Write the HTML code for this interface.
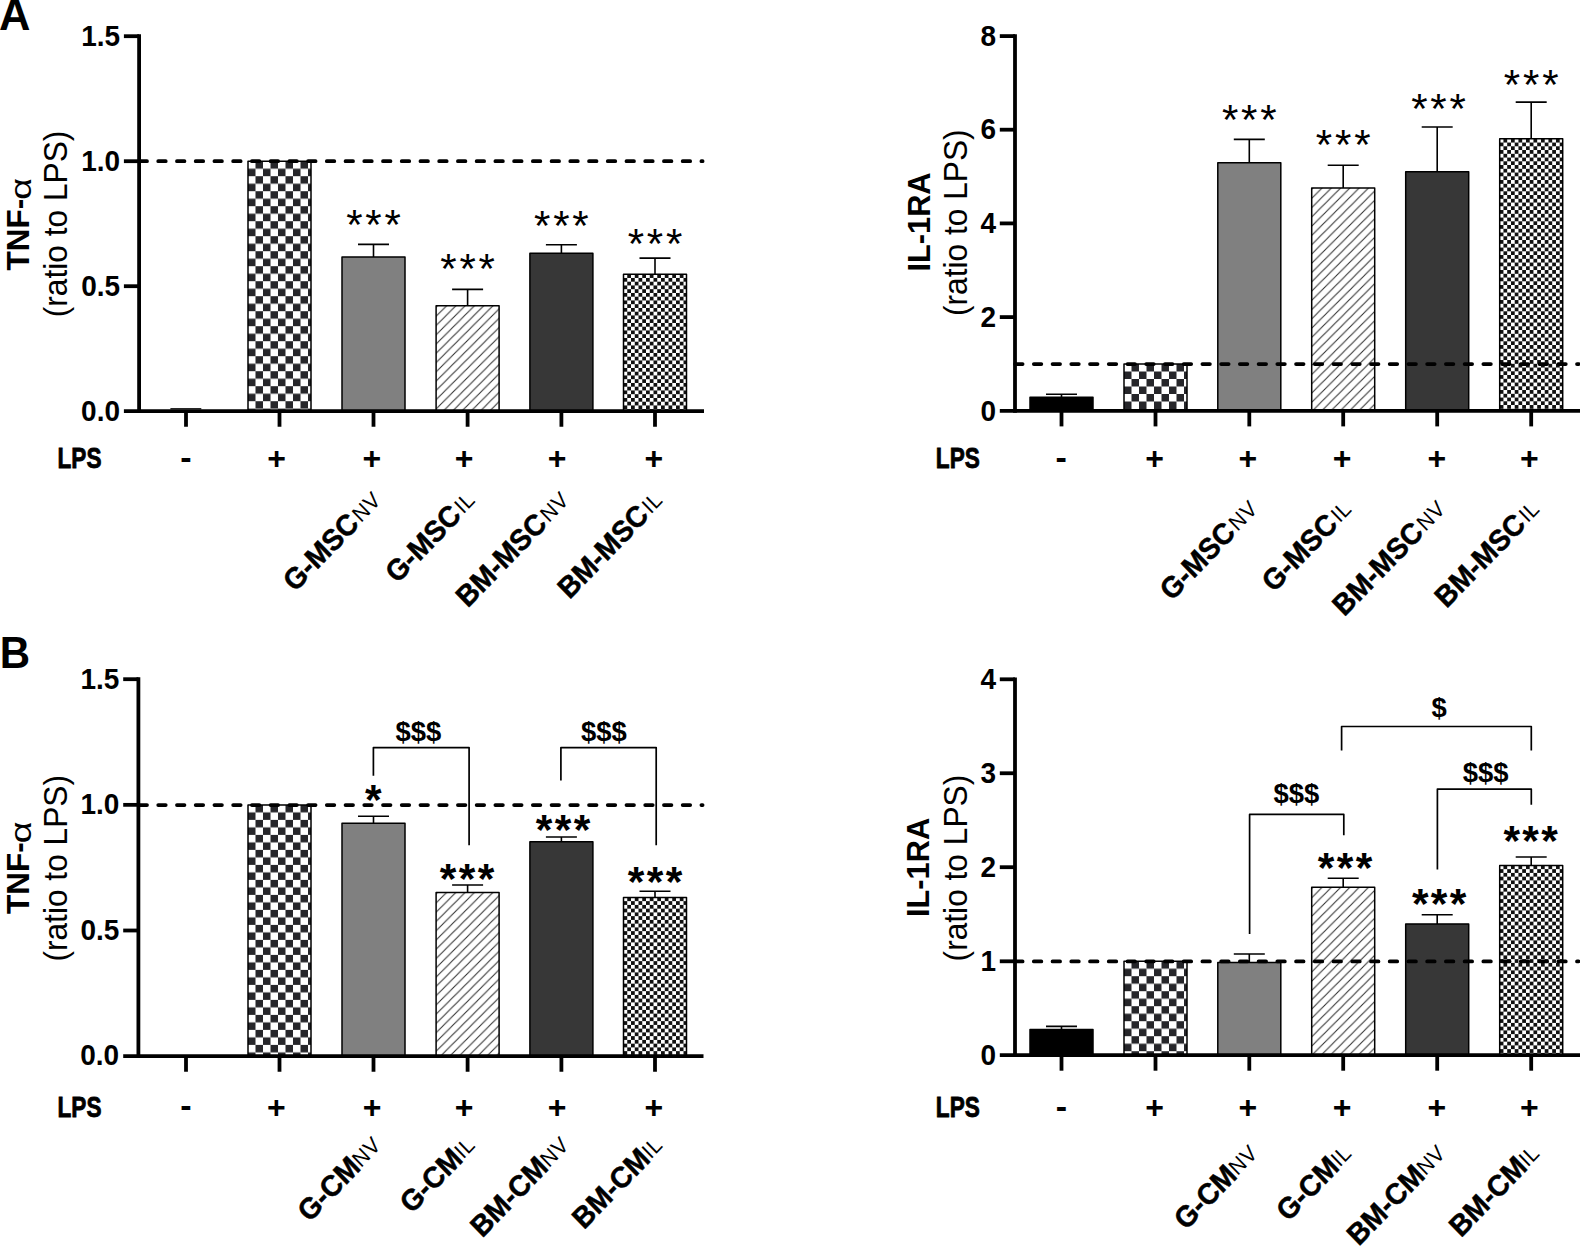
<!DOCTYPE html>
<html lang="en"><head><meta charset="utf-8"><title>Figure</title>
<style>
html,body{margin:0;padding:0;background:#fff;}
body{width:1580px;height:1246px;overflow:hidden;font-family:"Liberation Sans",Arial,sans-serif;}
svg{display:block}
text{fill:#000}
</style></head><body>
<svg width="1580" height="1246" viewBox="0 0 1580 1246">
<defs>
<pattern id="p1" patternUnits="userSpaceOnUse" x="248.00" y="161.20" width="15.0" height="15.0"><rect x="0" y="0" width="15.0" height="15.0" fill="#fff"/><rect x="7.5" y="0" width="7.5" height="7.5" fill="#26262a"/><rect x="0" y="7.5" width="7.5" height="7.5" fill="#26262a"/></pattern>
<pattern id="p2" patternUnits="userSpaceOnUse" x="437.30" y="305.80" width="9.27" height="9.27"><rect x="0" y="0" width="9.27" height="9.27" fill="#fff"/><path d="M-9.27,9.27 L9.27,-9.27 M0,18.54 L18.54,0 M-4.635,13.905 L13.905,-4.635" stroke="#303030" stroke-width="1.05" fill="none"/></pattern>
<pattern id="p3" patternUnits="userSpaceOnUse" x="623.50" y="274.20" width="7.5" height="7.5"><rect x="0" y="0" width="7.5" height="7.5" fill="#fff"/><rect x="3.75" y="0" width="3.75" height="3.75" fill="#111"/><rect x="0" y="3.75" width="3.75" height="3.75" fill="#111"/></pattern>
<pattern id="p4" patternUnits="userSpaceOnUse" x="1124.00" y="364.00" width="15.0" height="15.0"><rect x="0" y="0" width="15.0" height="15.0" fill="#fff"/><rect x="7.5" y="0" width="7.5" height="7.5" fill="#26262a"/><rect x="0" y="7.5" width="7.5" height="7.5" fill="#26262a"/></pattern>
<pattern id="p5" patternUnits="userSpaceOnUse" x="1312.90" y="187.90" width="9.27" height="9.27"><rect x="0" y="0" width="9.27" height="9.27" fill="#fff"/><path d="M-9.27,9.27 L9.27,-9.27 M0,18.54 L18.54,0 M-4.635,13.905 L13.905,-4.635" stroke="#303030" stroke-width="1.05" fill="none"/></pattern>
<pattern id="p6" patternUnits="userSpaceOnUse" x="1499.70" y="138.80" width="7.5" height="7.5"><rect x="0" y="0" width="7.5" height="7.5" fill="#fff"/><rect x="3.75" y="0" width="3.75" height="3.75" fill="#111"/><rect x="0" y="3.75" width="3.75" height="3.75" fill="#111"/></pattern>
<pattern id="p7" patternUnits="userSpaceOnUse" x="248.00" y="804.90" width="15.0" height="15.0"><rect x="0" y="0" width="15.0" height="15.0" fill="#fff"/><rect x="7.5" y="0" width="7.5" height="7.5" fill="#26262a"/><rect x="0" y="7.5" width="7.5" height="7.5" fill="#26262a"/></pattern>
<pattern id="p8" patternUnits="userSpaceOnUse" x="437.30" y="892.50" width="9.27" height="9.27"><rect x="0" y="0" width="9.27" height="9.27" fill="#fff"/><path d="M-9.27,9.27 L9.27,-9.27 M0,18.54 L18.54,0 M-4.635,13.905 L13.905,-4.635" stroke="#303030" stroke-width="1.05" fill="none"/></pattern>
<pattern id="p9" patternUnits="userSpaceOnUse" x="623.50" y="897.40" width="7.5" height="7.5"><rect x="0" y="0" width="7.5" height="7.5" fill="#fff"/><rect x="3.75" y="0" width="3.75" height="3.75" fill="#111"/><rect x="0" y="3.75" width="3.75" height="3.75" fill="#111"/></pattern>
<pattern id="p10" patternUnits="userSpaceOnUse" x="1124.00" y="961.20" width="15.0" height="15.0"><rect x="0" y="0" width="15.0" height="15.0" fill="#fff"/><rect x="7.5" y="0" width="7.5" height="7.5" fill="#26262a"/><rect x="0" y="7.5" width="7.5" height="7.5" fill="#26262a"/></pattern>
<pattern id="p11" patternUnits="userSpaceOnUse" x="1312.90" y="887.30" width="9.27" height="9.27"><rect x="0" y="0" width="9.27" height="9.27" fill="#fff"/><path d="M-9.27,9.27 L9.27,-9.27 M0,18.54 L18.54,0 M-4.635,13.905 L13.905,-4.635" stroke="#303030" stroke-width="1.05" fill="none"/></pattern>
<pattern id="p12" patternUnits="userSpaceOnUse" x="1499.70" y="865.40" width="7.5" height="7.5"><rect x="0" y="0" width="7.5" height="7.5" fill="#fff"/><rect x="3.75" y="0" width="3.75" height="3.75" fill="#111"/><rect x="0" y="3.75" width="3.75" height="3.75" fill="#111"/></pattern>
</defs>
<rect x="0" y="0" width="1580" height="1246" fill="#fff"/>
<text transform="translate(-1.00,30.00) scale(1,1.04)" font-family="Liberation Sans, Arial, sans-serif" font-weight="bold" font-size="43.5">A</text>
<text transform="translate(-0.30,667.50) scale(1,1.04)" font-family="Liberation Sans, Arial, sans-serif" font-weight="bold" font-size="42">B</text>
<rect x="248.00" y="161.20" width="63.0" height="249.95" fill="url(#p1)" stroke="#000" stroke-width="1.5" stroke-linejoin="round"/>
<rect x="342.00" y="257.00" width="63.0" height="154.15" fill="#808080" stroke="#000" stroke-width="1.5" stroke-linejoin="round"/>
<path d="M358.00,244.40 H389.00 M373.50,244.40 V257.00" stroke="#000" stroke-width="1.6" fill="none"/>
<rect x="436.10" y="305.80" width="63.0" height="105.35" fill="url(#p2)" stroke="#000" stroke-width="1.5" stroke-linejoin="round"/>
<path d="M452.10,289.40 H483.10 M467.60,289.40 V305.80" stroke="#000" stroke-width="1.6" fill="none"/>
<rect x="529.90" y="253.30" width="63.0" height="157.85" fill="#373737" stroke="#000" stroke-width="1.5" stroke-linejoin="round"/>
<path d="M545.90,244.80 H576.90 M561.40,244.80 V253.30" stroke="#000" stroke-width="1.6" fill="none"/>
<rect x="623.50" y="274.20" width="63.0" height="136.95" fill="url(#p3)" stroke="#000" stroke-width="1.5" stroke-linejoin="round"/>
<path d="M639.50,258.10 H670.50 M655.00,258.10 V274.20" stroke="#000" stroke-width="1.6" fill="none"/>
<path d="M170.4,408.8 H201.3" stroke="#000" stroke-width="1.3"/>
<path d="M139.50,161.20 H702.60" stroke="#000" stroke-width="3.75" stroke-linecap="round" stroke-dasharray="7.5 11.23" fill="none"/>
<path d="M139.10,34.30 V413.05" stroke="#000" stroke-width="3.8" fill="none"/>
<path d="M123.90,411.15 H704.00" stroke="#000" stroke-width="3.8" fill="none"/>
<path d="M123.90,36.20 H139.10" stroke="#000" stroke-width="3.8" fill="none"/>
<path d="M123.90,161.20 H139.10" stroke="#000" stroke-width="3.8" fill="none"/>
<path d="M123.90,286.20 H139.10" stroke="#000" stroke-width="3.8" fill="none"/>
<path d="M186.00,411.15 V426.75" stroke="#000" stroke-width="3.8" fill="none"/>
<path d="M279.50,411.15 V426.75" stroke="#000" stroke-width="3.8" fill="none"/>
<path d="M373.50,411.15 V426.75" stroke="#000" stroke-width="3.8" fill="none"/>
<path d="M467.60,411.15 V426.75" stroke="#000" stroke-width="3.8" fill="none"/>
<path d="M561.40,411.15 V426.75" stroke="#000" stroke-width="3.8" fill="none"/>
<path d="M655.00,411.15 V426.75" stroke="#000" stroke-width="3.8" fill="none"/>
<text x="346.17" y="238.80" font-family="Liberation Sans, Arial, sans-serif" font-size="42.0" letter-spacing="2.8">***</text>
<text x="440.27" y="282.50" font-family="Liberation Sans, Arial, sans-serif" font-size="42.0" letter-spacing="2.8">***</text>
<text x="534.07" y="240.10" font-family="Liberation Sans, Arial, sans-serif" font-size="42.0" letter-spacing="2.8">***</text>
<text x="627.67" y="258.40" font-family="Liberation Sans, Arial, sans-serif" font-size="42.0" letter-spacing="2.8">***</text>
<text transform="translate(120.20,45.60) scale(1,1.085)" font-family="Liberation Sans, Arial, sans-serif" font-weight="bold" font-size="28.0" text-anchor="end">1.5</text>
<text transform="translate(120.20,170.60) scale(1,1.085)" font-family="Liberation Sans, Arial, sans-serif" font-weight="bold" font-size="28.0" text-anchor="end">1.0</text>
<text transform="translate(120.20,295.60) scale(1,1.085)" font-family="Liberation Sans, Arial, sans-serif" font-weight="bold" font-size="28.0" text-anchor="end">0.5</text>
<text transform="translate(120.00,421.00) scale(1,1.085)" font-family="Liberation Sans, Arial, sans-serif" font-weight="bold" font-size="28.0" text-anchor="end">0.0</text>
<text transform="translate(29.00,270.40) rotate(-90) scale(1,1.02)" font-family="Liberation Sans, Arial, sans-serif" font-size="31.5" font-weight="bold">TNF-</text>
<text transform="translate(30.60,199.80) rotate(-90) scale(1.29,1)" font-family="Liberation Sans, Arial, sans-serif" font-size="29.4">α</text>
<text transform="translate(66.50,224.00) rotate(-90) scale(1,1.02)" font-family="Liberation Sans, Arial, sans-serif" font-size="31.7" text-anchor="middle">(ratio to LPS)</text>
<text transform="translate(101.50,468.00) scale(1,1.08)" font-family="Liberation Sans, Arial, sans-serif" font-weight="bold" font-size="28.0" text-anchor="end" textLength="44.0" lengthAdjust="spacingAndGlyphs" stroke="#000" stroke-width="0.8">LPS</text>
<text x="180.36" y="468.52" font-family="Liberation Sans, Arial, sans-serif" font-weight="bold" font-size="34.0">-</text>
<text x="267.14" y="468.74" font-family="Liberation Sans, Arial, sans-serif" font-weight="bold" font-size="32.0">+</text>
<text x="362.54" y="468.74" font-family="Liberation Sans, Arial, sans-serif" font-weight="bold" font-size="32.0">+</text>
<text x="454.84" y="468.74" font-family="Liberation Sans, Arial, sans-serif" font-weight="bold" font-size="32.0">+</text>
<text x="547.74" y="468.74" font-family="Liberation Sans, Arial, sans-serif" font-weight="bold" font-size="32.0">+</text>
<text x="644.54" y="468.74" font-family="Liberation Sans, Arial, sans-serif" font-weight="bold" font-size="32.0">+</text>
<g transform="translate(382.70,502.45) scale(0.97,1) rotate(-45)"><text transform="translate(-30.47,-1.2) scale(1.0,1.04)" font-family="Liberation Sans, Arial, sans-serif" font-size="21.5" letter-spacing="0.6">NV</text><text transform="translate(-32.47,0) scale(1,1.04)" font-family="Liberation Sans, Arial, sans-serif" font-weight="bold" font-size="28.6" text-anchor="end" stroke="#000" stroke-width="0.5">G-MSC</text></g>
<g transform="translate(476.80,502.45) scale(0.97,1) rotate(-45)"><text transform="translate(-18.53,-1.2) scale(1.0,1.04)" font-family="Liberation Sans, Arial, sans-serif" font-size="21.5" letter-spacing="0.6">IL</text><text transform="translate(-20.53,0) scale(1,1.04)" font-family="Liberation Sans, Arial, sans-serif" font-weight="bold" font-size="28.6" text-anchor="end" stroke="#000" stroke-width="0.5">G-MSC</text></g>
<g transform="translate(570.60,502.45) scale(0.97,1) rotate(-45)"><text transform="translate(-30.47,-1.2) scale(1.0,1.04)" font-family="Liberation Sans, Arial, sans-serif" font-size="21.5" letter-spacing="0.6">NV</text><text transform="translate(-32.47,0) scale(1,1.04)" font-family="Liberation Sans, Arial, sans-serif" font-weight="bold" font-size="28.6" text-anchor="end" stroke="#000" stroke-width="0.5">BM-MSC</text></g>
<g transform="translate(664.20,502.45) scale(0.97,1) rotate(-45)"><text transform="translate(-18.53,-1.2) scale(1.0,1.04)" font-family="Liberation Sans, Arial, sans-serif" font-size="21.5" letter-spacing="0.6">IL</text><text transform="translate(-20.53,0) scale(1,1.04)" font-family="Liberation Sans, Arial, sans-serif" font-weight="bold" font-size="28.6" text-anchor="end" stroke="#000" stroke-width="0.5">BM-MSC</text></g>
<rect x="1030.00" y="397.30" width="63.0" height="13.50" fill="#000" stroke="#000" stroke-width="1.5" stroke-linejoin="round"/>
<path d="M1046.00,394.20 H1077.00 M1061.50,394.20 V397.30" stroke="#000" stroke-width="1.6" fill="none"/>
<rect x="1124.00" y="364.00" width="63.0" height="46.80" fill="url(#p4)" stroke="#000" stroke-width="1.5" stroke-linejoin="round"/>
<rect x="1217.80" y="162.70" width="63.0" height="248.10" fill="#808080" stroke="#000" stroke-width="1.5" stroke-linejoin="round"/>
<path d="M1233.80,139.40 H1264.80 M1249.30,139.40 V162.70" stroke="#000" stroke-width="1.6" fill="none"/>
<rect x="1311.70" y="187.90" width="63.0" height="222.90" fill="url(#p5)" stroke="#000" stroke-width="1.5" stroke-linejoin="round"/>
<path d="M1327.70,165.30 H1358.70 M1343.20,165.30 V187.90" stroke="#000" stroke-width="1.6" fill="none"/>
<rect x="1405.70" y="171.70" width="63.0" height="239.10" fill="#373737" stroke="#000" stroke-width="1.5" stroke-linejoin="round"/>
<path d="M1421.70,127.00 H1452.70 M1437.20,127.00 V171.70" stroke="#000" stroke-width="1.6" fill="none"/>
<rect x="1499.70" y="138.80" width="63.0" height="272.00" fill="url(#p6)" stroke="#000" stroke-width="1.5" stroke-linejoin="round"/>
<path d="M1515.70,102.10 H1546.70 M1531.20,102.10 V138.80" stroke="#000" stroke-width="1.6" fill="none"/>
<path d="M1015.10,364.00 H1578.60" stroke="#000" stroke-width="3.75" stroke-linecap="round" stroke-dasharray="7.5 11.23" fill="none"/>
<path d="M1015.00,34.20 V412.70" stroke="#000" stroke-width="3.8" fill="none"/>
<path d="M999.80,410.80 H1580.00" stroke="#000" stroke-width="3.8" fill="none"/>
<path d="M999.80,36.10 H1015.00" stroke="#000" stroke-width="3.8" fill="none"/>
<path d="M999.80,129.70 H1015.00" stroke="#000" stroke-width="3.8" fill="none"/>
<path d="M999.80,223.40 H1015.00" stroke="#000" stroke-width="3.8" fill="none"/>
<path d="M999.80,317.10 H1015.00" stroke="#000" stroke-width="3.8" fill="none"/>
<path d="M1061.50,410.80 V426.40" stroke="#000" stroke-width="3.8" fill="none"/>
<path d="M1155.50,410.80 V426.40" stroke="#000" stroke-width="3.8" fill="none"/>
<path d="M1249.30,410.80 V426.40" stroke="#000" stroke-width="3.8" fill="none"/>
<path d="M1343.20,410.80 V426.40" stroke="#000" stroke-width="3.8" fill="none"/>
<path d="M1437.20,410.80 V426.40" stroke="#000" stroke-width="3.8" fill="none"/>
<path d="M1531.20,410.80 V426.40" stroke="#000" stroke-width="3.8" fill="none"/>
<text x="1221.97" y="134.20" font-family="Liberation Sans, Arial, sans-serif" font-size="42.0" letter-spacing="2.8">***</text>
<text x="1315.87" y="159.20" font-family="Liberation Sans, Arial, sans-serif" font-size="42.0" letter-spacing="2.8">***</text>
<text x="1411.17" y="123.30" font-family="Liberation Sans, Arial, sans-serif" font-size="42.0" letter-spacing="2.8">***</text>
<text x="1503.87" y="98.90" font-family="Liberation Sans, Arial, sans-serif" font-size="42.0" letter-spacing="2.8">***</text>
<text transform="translate(996.10,45.50) scale(1,1.085)" font-family="Liberation Sans, Arial, sans-serif" font-weight="bold" font-size="28.0" text-anchor="end">8</text>
<text transform="translate(996.10,139.10) scale(1,1.085)" font-family="Liberation Sans, Arial, sans-serif" font-weight="bold" font-size="28.0" text-anchor="end">6</text>
<text transform="translate(996.10,232.80) scale(1,1.085)" font-family="Liberation Sans, Arial, sans-serif" font-weight="bold" font-size="28.0" text-anchor="end">4</text>
<text transform="translate(996.10,326.50) scale(1,1.085)" font-family="Liberation Sans, Arial, sans-serif" font-weight="bold" font-size="28.0" text-anchor="end">2</text>
<text transform="translate(996.00,420.70) scale(1,1.085)" font-family="Liberation Sans, Arial, sans-serif" font-weight="bold" font-size="28.0" text-anchor="end">0</text>
<text transform="translate(929.70,222.00) rotate(-90) scale(1,1.02)" font-family="Liberation Sans, Arial, sans-serif" font-size="30.8" font-weight="bold" text-anchor="middle">IL-1RA</text>
<text transform="translate(967.30,222.70) rotate(-90) scale(1,1.02)" font-family="Liberation Sans, Arial, sans-serif" font-size="31.7" text-anchor="middle">(ratio to LPS)</text>
<text transform="translate(979.80,468.00) scale(1,1.08)" font-family="Liberation Sans, Arial, sans-serif" font-weight="bold" font-size="28.0" text-anchor="end" textLength="44.0" lengthAdjust="spacingAndGlyphs" stroke="#000" stroke-width="0.8">LPS</text>
<text x="1055.56" y="468.52" font-family="Liberation Sans, Arial, sans-serif" font-weight="bold" font-size="34.0">-</text>
<text x="1145.14" y="468.74" font-family="Liberation Sans, Arial, sans-serif" font-weight="bold" font-size="32.0">+</text>
<text x="1238.44" y="468.74" font-family="Liberation Sans, Arial, sans-serif" font-weight="bold" font-size="32.0">+</text>
<text x="1332.74" y="468.74" font-family="Liberation Sans, Arial, sans-serif" font-weight="bold" font-size="32.0">+</text>
<text x="1427.44" y="468.74" font-family="Liberation Sans, Arial, sans-serif" font-weight="bold" font-size="32.0">+</text>
<text x="1520.04" y="468.74" font-family="Liberation Sans, Arial, sans-serif" font-weight="bold" font-size="32.0">+</text>
<g transform="translate(1259.30,511.30) scale(0.97,1) rotate(-45)"><text transform="translate(-30.47,-1.2) scale(1.0,1.04)" font-family="Liberation Sans, Arial, sans-serif" font-size="21.5" letter-spacing="0.6">NV</text><text transform="translate(-32.47,0) scale(1,1.04)" font-family="Liberation Sans, Arial, sans-serif" font-weight="bold" font-size="28.6" text-anchor="end" stroke="#000" stroke-width="0.5">G-MSC</text></g>
<g transform="translate(1353.20,511.30) scale(0.97,1) rotate(-45)"><text transform="translate(-18.53,-1.2) scale(1.0,1.04)" font-family="Liberation Sans, Arial, sans-serif" font-size="21.5" letter-spacing="0.6">IL</text><text transform="translate(-20.53,0) scale(1,1.04)" font-family="Liberation Sans, Arial, sans-serif" font-weight="bold" font-size="28.6" text-anchor="end" stroke="#000" stroke-width="0.5">G-MSC</text></g>
<g transform="translate(1447.20,511.30) scale(0.97,1) rotate(-45)"><text transform="translate(-30.47,-1.2) scale(1.0,1.04)" font-family="Liberation Sans, Arial, sans-serif" font-size="21.5" letter-spacing="0.6">NV</text><text transform="translate(-32.47,0) scale(1,1.04)" font-family="Liberation Sans, Arial, sans-serif" font-weight="bold" font-size="28.6" text-anchor="end" stroke="#000" stroke-width="0.5">BM-MSC</text></g>
<g transform="translate(1541.20,511.30) scale(0.97,1) rotate(-45)"><text transform="translate(-18.53,-1.2) scale(1.0,1.04)" font-family="Liberation Sans, Arial, sans-serif" font-size="21.5" letter-spacing="0.6">IL</text><text transform="translate(-20.53,0) scale(1,1.04)" font-family="Liberation Sans, Arial, sans-serif" font-weight="bold" font-size="28.6" text-anchor="end" stroke="#000" stroke-width="0.5">BM-MSC</text></g>
<rect x="248.00" y="804.90" width="63.0" height="251.25" fill="url(#p7)" stroke="#000" stroke-width="1.5" stroke-linejoin="round"/>
<rect x="342.00" y="823.30" width="63.0" height="232.85" fill="#808080" stroke="#000" stroke-width="1.5" stroke-linejoin="round"/>
<path d="M358.00,816.20 H389.00 M373.50,816.20 V823.30" stroke="#000" stroke-width="1.6" fill="none"/>
<rect x="436.10" y="892.50" width="63.0" height="163.65" fill="url(#p8)" stroke="#000" stroke-width="1.5" stroke-linejoin="round"/>
<path d="M452.10,885.00 H483.10 M467.60,885.00 V892.50" stroke="#000" stroke-width="1.6" fill="none"/>
<rect x="529.90" y="841.70" width="63.0" height="214.45" fill="#373737" stroke="#000" stroke-width="1.5" stroke-linejoin="round"/>
<path d="M545.90,837.00 H576.90 M561.40,837.00 V841.70" stroke="#000" stroke-width="1.6" fill="none"/>
<rect x="623.50" y="897.40" width="63.0" height="158.75" fill="url(#p9)" stroke="#000" stroke-width="1.5" stroke-linejoin="round"/>
<path d="M639.50,891.30 H670.50 M655.00,891.30 V897.40" stroke="#000" stroke-width="1.6" fill="none"/>
<path d="M139.50,805.10 H702.60" stroke="#000" stroke-width="3.75" stroke-linecap="round" stroke-dasharray="7.5 11.23" fill="none"/>
<path d="M138.40,677.30 V1058.05" stroke="#000" stroke-width="3.8" fill="none"/>
<path d="M123.20,1056.15 H703.50" stroke="#000" stroke-width="3.8" fill="none"/>
<path d="M123.20,679.20 H138.40" stroke="#000" stroke-width="3.8" fill="none"/>
<path d="M123.20,804.85 H138.40" stroke="#000" stroke-width="3.8" fill="none"/>
<path d="M123.20,930.50 H138.40" stroke="#000" stroke-width="3.8" fill="none"/>
<path d="M186.00,1056.15 V1071.75" stroke="#000" stroke-width="3.8" fill="none"/>
<path d="M279.50,1056.15 V1071.75" stroke="#000" stroke-width="3.8" fill="none"/>
<path d="M373.50,1056.15 V1071.75" stroke="#000" stroke-width="3.8" fill="none"/>
<path d="M467.60,1056.15 V1071.75" stroke="#000" stroke-width="3.8" fill="none"/>
<path d="M561.40,1056.15 V1071.75" stroke="#000" stroke-width="3.8" fill="none"/>
<path d="M655.00,1056.15 V1071.75" stroke="#000" stroke-width="3.8" fill="none"/>
<text x="364.97" y="813.81" font-family="Liberation Sans, Arial, sans-serif" font-weight="bold" font-size="42.6" letter-spacing="2.4">*</text>
<text x="439.79" y="892.91" font-family="Liberation Sans, Arial, sans-serif" font-weight="bold" font-size="42.6" letter-spacing="2.4">***</text>
<text x="535.69" y="844.11" font-family="Liberation Sans, Arial, sans-serif" font-weight="bold" font-size="42.6" letter-spacing="2.4">***</text>
<text x="627.69" y="896.01" font-family="Liberation Sans, Arial, sans-serif" font-weight="bold" font-size="42.6" letter-spacing="2.4">***</text>
<path d="M373.40,775.80 V747.60 H469.10 V845.20" stroke="#000" stroke-width="1.7" fill="none" stroke-linejoin="round"/>
<path d="M560.90,780.50 V747.60 H656.20 V845.20" stroke="#000" stroke-width="1.7" fill="none" stroke-linejoin="round"/>
<text transform="translate(418.40,740.84) scale(1,1.04)" font-family="Liberation Sans, Arial, sans-serif" font-weight="bold" font-size="27.4" text-anchor="middle">$$$</text>
<text transform="translate(603.90,740.84) scale(1,1.04)" font-family="Liberation Sans, Arial, sans-serif" font-weight="bold" font-size="27.4" text-anchor="middle">$$$</text>
<text transform="translate(119.30,688.60) scale(1,1.085)" font-family="Liberation Sans, Arial, sans-serif" font-weight="bold" font-size="28.0" text-anchor="end">1.5</text>
<text transform="translate(119.30,814.25) scale(1,1.085)" font-family="Liberation Sans, Arial, sans-serif" font-weight="bold" font-size="28.0" text-anchor="end">1.0</text>
<text transform="translate(119.30,939.90) scale(1,1.085)" font-family="Liberation Sans, Arial, sans-serif" font-weight="bold" font-size="28.0" text-anchor="end">0.5</text>
<text transform="translate(119.20,1065.45) scale(1,1.085)" font-family="Liberation Sans, Arial, sans-serif" font-weight="bold" font-size="28.0" text-anchor="end">0.0</text>
<text transform="translate(29.00,913.90) rotate(-90) scale(1,1.02)" font-family="Liberation Sans, Arial, sans-serif" font-size="31.5" font-weight="bold">TNF-</text>
<text transform="translate(30.60,843.30) rotate(-90) scale(1.29,1)" font-family="Liberation Sans, Arial, sans-serif" font-size="29.4">α</text>
<text transform="translate(67.30,868.30) rotate(-90) scale(1,1.02)" font-family="Liberation Sans, Arial, sans-serif" font-size="31.7" text-anchor="middle">(ratio to LPS)</text>
<text transform="translate(101.50,1116.80) scale(1,1.08)" font-family="Liberation Sans, Arial, sans-serif" font-weight="bold" font-size="28.0" text-anchor="end" textLength="44.0" lengthAdjust="spacingAndGlyphs" stroke="#000" stroke-width="0.8">LPS</text>
<text x="180.16" y="1117.32" font-family="Liberation Sans, Arial, sans-serif" font-weight="bold" font-size="34.0">-</text>
<text x="267.04" y="1117.54" font-family="Liberation Sans, Arial, sans-serif" font-weight="bold" font-size="32.0">+</text>
<text x="362.84" y="1117.54" font-family="Liberation Sans, Arial, sans-serif" font-weight="bold" font-size="32.0">+</text>
<text x="454.84" y="1117.54" font-family="Liberation Sans, Arial, sans-serif" font-weight="bold" font-size="32.0">+</text>
<text x="547.74" y="1117.54" font-family="Liberation Sans, Arial, sans-serif" font-weight="bold" font-size="32.0">+</text>
<text x="644.54" y="1117.54" font-family="Liberation Sans, Arial, sans-serif" font-weight="bold" font-size="32.0">+</text>
<g transform="translate(382.70,1147.45) scale(0.97,1) rotate(-45)"><text transform="translate(-30.47,-1.2) scale(1.0,1.04)" font-family="Liberation Sans, Arial, sans-serif" font-size="21.5" letter-spacing="0.6">NV</text><text transform="translate(-30.47,0) scale(1,1.04)" font-family="Liberation Sans, Arial, sans-serif" font-weight="bold" font-size="28.6" text-anchor="end" stroke="#000" stroke-width="0.5">G-CM</text></g>
<g transform="translate(476.80,1147.45) scale(0.97,1) rotate(-45)"><text transform="translate(-18.53,-1.2) scale(1.0,1.04)" font-family="Liberation Sans, Arial, sans-serif" font-size="21.5" letter-spacing="0.6">IL</text><text transform="translate(-18.53,0) scale(1,1.04)" font-family="Liberation Sans, Arial, sans-serif" font-weight="bold" font-size="28.6" text-anchor="end" stroke="#000" stroke-width="0.5">G-CM</text></g>
<g transform="translate(570.60,1147.45) scale(0.97,1) rotate(-45)"><text transform="translate(-30.47,-1.2) scale(1.0,1.04)" font-family="Liberation Sans, Arial, sans-serif" font-size="21.5" letter-spacing="0.6">NV</text><text transform="translate(-30.47,0) scale(1,1.04)" font-family="Liberation Sans, Arial, sans-serif" font-weight="bold" font-size="28.6" text-anchor="end" stroke="#000" stroke-width="0.5">BM-CM</text></g>
<g transform="translate(664.20,1147.45) scale(0.97,1) rotate(-45)"><text transform="translate(-18.53,-1.2) scale(1.0,1.04)" font-family="Liberation Sans, Arial, sans-serif" font-size="21.5" letter-spacing="0.6">IL</text><text transform="translate(-18.53,0) scale(1,1.04)" font-family="Liberation Sans, Arial, sans-serif" font-weight="bold" font-size="28.6" text-anchor="end" stroke="#000" stroke-width="0.5">BM-CM</text></g>
<rect x="1030.00" y="1029.40" width="63.0" height="25.70" fill="#000" stroke="#000" stroke-width="1.5" stroke-linejoin="round"/>
<path d="M1046.00,1026.40 H1077.00 M1061.50,1026.40 V1029.40" stroke="#000" stroke-width="1.6" fill="none"/>
<rect x="1124.00" y="961.20" width="63.0" height="93.90" fill="url(#p10)" stroke="#000" stroke-width="1.5" stroke-linejoin="round"/>
<rect x="1217.80" y="962.50" width="63.0" height="92.60" fill="#808080" stroke="#000" stroke-width="1.5" stroke-linejoin="round"/>
<path d="M1233.80,954.00 H1264.80 M1249.30,954.00 V962.50" stroke="#000" stroke-width="1.6" fill="none"/>
<rect x="1311.70" y="887.30" width="63.0" height="167.80" fill="url(#p11)" stroke="#000" stroke-width="1.5" stroke-linejoin="round"/>
<path d="M1327.70,878.20 H1358.70 M1343.20,878.20 V887.30" stroke="#000" stroke-width="1.6" fill="none"/>
<rect x="1405.70" y="923.90" width="63.0" height="131.20" fill="#373737" stroke="#000" stroke-width="1.5" stroke-linejoin="round"/>
<path d="M1421.70,914.80 H1452.70 M1437.20,914.80 V923.90" stroke="#000" stroke-width="1.6" fill="none"/>
<rect x="1499.70" y="865.40" width="63.0" height="189.70" fill="url(#p12)" stroke="#000" stroke-width="1.5" stroke-linejoin="round"/>
<path d="M1515.70,857.00 H1546.70 M1531.20,857.00 V865.40" stroke="#000" stroke-width="1.6" fill="none"/>
<path d="M1015.10,961.40 H1578.60" stroke="#000" stroke-width="3.75" stroke-linecap="round" stroke-dasharray="7.5 11.23" fill="none"/>
<path d="M1015.00,677.40 V1057.00" stroke="#000" stroke-width="3.8" fill="none"/>
<path d="M999.80,1055.10 H1580.00" stroke="#000" stroke-width="3.8" fill="none"/>
<path d="M999.80,679.30 H1015.00" stroke="#000" stroke-width="3.8" fill="none"/>
<path d="M999.80,773.25 H1015.00" stroke="#000" stroke-width="3.8" fill="none"/>
<path d="M999.80,867.20 H1015.00" stroke="#000" stroke-width="3.8" fill="none"/>
<path d="M999.80,961.30 H1015.00" stroke="#000" stroke-width="3.8" fill="none"/>
<path d="M1061.50,1055.10 V1070.70" stroke="#000" stroke-width="3.8" fill="none"/>
<path d="M1155.50,1055.10 V1070.70" stroke="#000" stroke-width="3.8" fill="none"/>
<path d="M1249.30,1055.10 V1070.70" stroke="#000" stroke-width="3.8" fill="none"/>
<path d="M1343.20,1055.10 V1070.70" stroke="#000" stroke-width="3.8" fill="none"/>
<path d="M1437.20,1055.10 V1070.70" stroke="#000" stroke-width="3.8" fill="none"/>
<path d="M1531.20,1055.10 V1070.70" stroke="#000" stroke-width="3.8" fill="none"/>
<text x="1317.79" y="882.11" font-family="Liberation Sans, Arial, sans-serif" font-weight="bold" font-size="42.6" letter-spacing="2.4">***</text>
<text x="1411.89" y="918.21" font-family="Liberation Sans, Arial, sans-serif" font-weight="bold" font-size="42.6" letter-spacing="2.4">***</text>
<text x="1503.39" y="855.41" font-family="Liberation Sans, Arial, sans-serif" font-weight="bold" font-size="42.6" letter-spacing="2.4">***</text>
<path d="M1341.60,750.60 V726.50 H1531.30 V750.60" stroke="#000" stroke-width="1.7" fill="none" stroke-linejoin="round"/>
<path d="M1437.40,869.50 V789.10 H1531.30 V804.70" stroke="#000" stroke-width="1.7" fill="none" stroke-linejoin="round"/>
<path d="M1249.60,934.00 V814.40 H1343.80 V835.30" stroke="#000" stroke-width="1.7" fill="none" stroke-linejoin="round"/>
<text transform="translate(1439.00,717.14) scale(1,1.04)" font-family="Liberation Sans, Arial, sans-serif" font-weight="bold" font-size="27.4" text-anchor="middle">$</text>
<text transform="translate(1485.70,782.14) scale(1,1.04)" font-family="Liberation Sans, Arial, sans-serif" font-weight="bold" font-size="27.4" text-anchor="middle">$$$</text>
<text transform="translate(1296.40,803.34) scale(1,1.04)" font-family="Liberation Sans, Arial, sans-serif" font-weight="bold" font-size="27.4" text-anchor="middle">$$$</text>
<text transform="translate(996.10,688.70) scale(1,1.085)" font-family="Liberation Sans, Arial, sans-serif" font-weight="bold" font-size="28.0" text-anchor="end">4</text>
<text transform="translate(996.10,782.65) scale(1,1.085)" font-family="Liberation Sans, Arial, sans-serif" font-weight="bold" font-size="28.0" text-anchor="end">3</text>
<text transform="translate(996.10,876.60) scale(1,1.085)" font-family="Liberation Sans, Arial, sans-serif" font-weight="bold" font-size="28.0" text-anchor="end">2</text>
<text transform="translate(996.10,970.80) scale(1,1.085)" font-family="Liberation Sans, Arial, sans-serif" font-weight="bold" font-size="28.0" text-anchor="end">1</text>
<text transform="translate(996.00,1064.90) scale(1,1.085)" font-family="Liberation Sans, Arial, sans-serif" font-weight="bold" font-size="28.0" text-anchor="end">0</text>
<text transform="translate(928.90,867.40) rotate(-90) scale(1,1.02)" font-family="Liberation Sans, Arial, sans-serif" font-size="30.8" font-weight="bold" text-anchor="middle">IL-1RA</text>
<text transform="translate(967.30,868.10) rotate(-90) scale(1,1.02)" font-family="Liberation Sans, Arial, sans-serif" font-size="31.7" text-anchor="middle">(ratio to LPS)</text>
<text transform="translate(979.80,1117.30) scale(1,1.08)" font-family="Liberation Sans, Arial, sans-serif" font-weight="bold" font-size="28.0" text-anchor="end" textLength="44.0" lengthAdjust="spacingAndGlyphs" stroke="#000" stroke-width="0.8">LPS</text>
<text x="1055.76" y="1117.82" font-family="Liberation Sans, Arial, sans-serif" font-weight="bold" font-size="34.0">-</text>
<text x="1145.24" y="1118.04" font-family="Liberation Sans, Arial, sans-serif" font-weight="bold" font-size="32.0">+</text>
<text x="1238.44" y="1118.04" font-family="Liberation Sans, Arial, sans-serif" font-weight="bold" font-size="32.0">+</text>
<text x="1332.74" y="1118.04" font-family="Liberation Sans, Arial, sans-serif" font-weight="bold" font-size="32.0">+</text>
<text x="1427.44" y="1118.04" font-family="Liberation Sans, Arial, sans-serif" font-weight="bold" font-size="32.0">+</text>
<text x="1520.04" y="1118.04" font-family="Liberation Sans, Arial, sans-serif" font-weight="bold" font-size="32.0">+</text>
<g transform="translate(1259.30,1155.60) scale(0.97,1) rotate(-45)"><text transform="translate(-30.47,-1.2) scale(1.0,1.04)" font-family="Liberation Sans, Arial, sans-serif" font-size="21.5" letter-spacing="0.6">NV</text><text transform="translate(-30.47,0) scale(1,1.04)" font-family="Liberation Sans, Arial, sans-serif" font-weight="bold" font-size="28.6" text-anchor="end" stroke="#000" stroke-width="0.5">G-CM</text></g>
<g transform="translate(1353.20,1155.60) scale(0.97,1) rotate(-45)"><text transform="translate(-18.53,-1.2) scale(1.0,1.04)" font-family="Liberation Sans, Arial, sans-serif" font-size="21.5" letter-spacing="0.6">IL</text><text transform="translate(-18.53,0) scale(1,1.04)" font-family="Liberation Sans, Arial, sans-serif" font-weight="bold" font-size="28.6" text-anchor="end" stroke="#000" stroke-width="0.5">G-CM</text></g>
<g transform="translate(1447.20,1155.60) scale(0.97,1) rotate(-45)"><text transform="translate(-30.47,-1.2) scale(1.0,1.04)" font-family="Liberation Sans, Arial, sans-serif" font-size="21.5" letter-spacing="0.6">NV</text><text transform="translate(-30.47,0) scale(1,1.04)" font-family="Liberation Sans, Arial, sans-serif" font-weight="bold" font-size="28.6" text-anchor="end" stroke="#000" stroke-width="0.5">BM-CM</text></g>
<g transform="translate(1541.20,1155.60) scale(0.97,1) rotate(-45)"><text transform="translate(-18.53,-1.2) scale(1.0,1.04)" font-family="Liberation Sans, Arial, sans-serif" font-size="21.5" letter-spacing="0.6">IL</text><text transform="translate(-18.53,0) scale(1,1.04)" font-family="Liberation Sans, Arial, sans-serif" font-weight="bold" font-size="28.6" text-anchor="end" stroke="#000" stroke-width="0.5">BM-CM</text></g>
</svg>
</body></html>
